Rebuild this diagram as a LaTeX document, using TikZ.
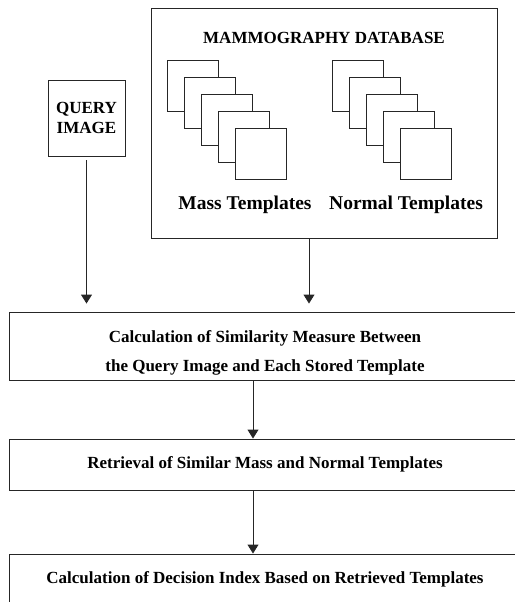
\documentclass[tikz,border=0pt]{standalone}
\usepackage{fontspec}
\setmainfont{Liberation Serif}
\usetikzlibrary{arrows.meta}
\usetikzlibrary{positioning}
\definecolor{mline}{rgb}{0.15, 0.15, 0.15}
\newcommand{\stagefont}{\fontsize{17bp}{29bp}\selectfont\bfseries}
\newcommand{\queryfont}{\fontsize{17bp}{19.5bp}\selectfont\bfseries}
\newcommand{\groupfont}{\fontsize{19.5bp}{22bp}\selectfont\bfseries}
\tikzset{flow/.style = {mline, line width=0.9bp, -{Triangle[length=9bp, width=11bp]}}}
\tikzset{stage/.style = {draw=mline, line width=0.9bp, minimum width=512bp,
                         inner sep=0pt, align=center, font=\stagefont}}
\tikzset{sheet/.style = {draw=mline, fill=white, line width=0.9bp}}

\begin{document}
\begin{tikzpicture}[x=1bp, y=-1bp]
    \useasboundingbox (0, 0) rectangle (515, 602);
    \clip (0, 0) rectangle (515, 602);

    \node [draw=mline, line width=0.9bp, minimum width=346bp, minimum height=230bp] (db) at (324, 123) {};
    \node [font=\stagefont] (dbtitle) at (324, 38) {MAMMOGRAPHY DATABASE};
    \foreach \i in {0,...,4} {
        \draw [sheet] (167 + 17*\i, 60 + 17*\i) rectangle +(51, 51);
        \draw [sheet] (332 + 17*\i, 60 + 17*\i) rectangle +(51, 51);
    }
    \node [font=\groupfont] (mass) at (245, 205) {Mass Templates};
    \node [font=\groupfont] (normal) at (406, 205) {Normal Templates};

    \node [draw=mline, line width=0.9bp, minimum width=77bp, minimum height=76bp,
           inner sep=0pt, align=center, font=\queryfont] (query) at (86.5, 118) {QUERY\\IMAGE};

    \node [stage, minimum height=68bp] (similarity) at (265, 346) {};
    \node [align=center, font=\stagefont] (similaritytext) at (265, 353)
        {Calculation of Similarity Measure Between\\the Query Image and Each Stored Template};
    \node [stage, minimum height=51bp] (retrieval) at (265, 464.5)
        {Retrieval of Similar Mass and Normal Templates};
    \node [stage, minimum height=50bp] (decision) at (265, 579)
        {Calculation of Decision Index Based on Retrieved Templates};

    \coordinate (dbout) at (309, 0);
    \coordinate (spine) at (253, 0);

    \draw [flow, shorten >=8bp] ([yshift=-4bp]query.south) -- (query.south |- similarity.north);
    \draw [flow, shorten >=8bp] (db.south -| dbout) -- (similarity.north -| dbout);
    \draw [flow] (similarity.south -| spine) -- (retrieval.north -| spine);
    \draw [flow] (retrieval.south -| spine) -- (decision.north -| spine);
\end{tikzpicture}
\end{document}
